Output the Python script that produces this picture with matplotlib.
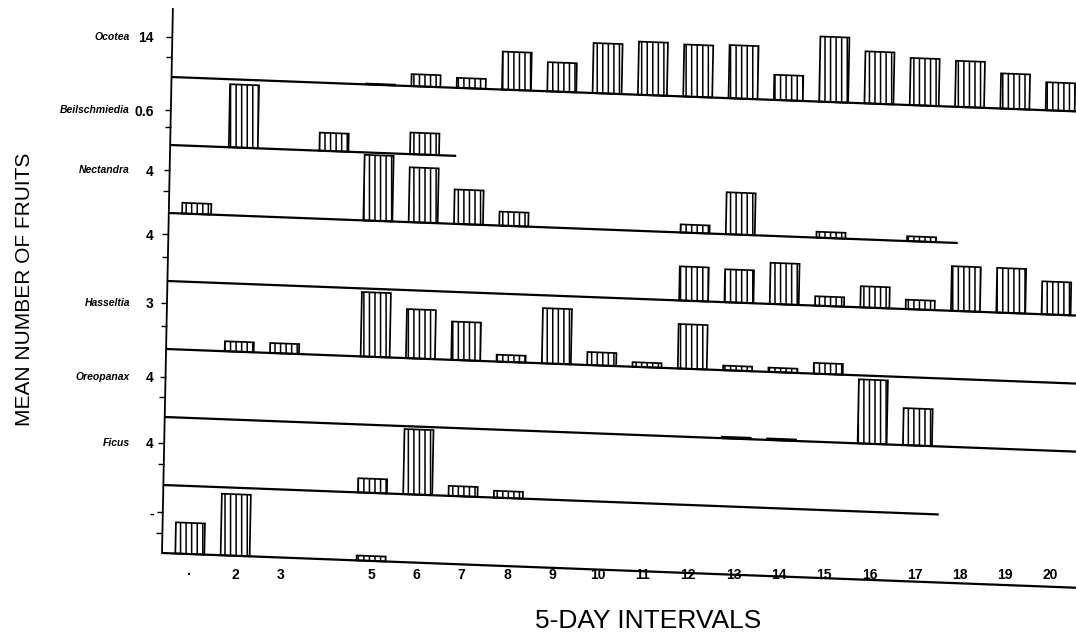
import numpy as np
import matplotlib
matplotlib.use("Agg")
import matplotlib.pyplot as plt
from matplotlib.transforms import Affine2D, blended_transform_factory
from matplotlib import font_manager

# ---------------- data ----------------
intervals = np.arange(1, 21)
x_labels = ['·', '2', '3', '', '5', '6', '7', '8', '9', '10',
            '11', '12', '13', '14', '15', '16', '17', '18', '19', '20']

species = ['Ocotea', 'Beilschmiedia', 'Nectandra', '', 'Hasseltia',
           'Oreopanax', 'Ficus', '']
tick_values = [14, 0.6, 4, 4, 3, 4, 4, 1]
tick_texts = ['14', '0.6', '4', '4', '3', '4', '4', '-']

ocotea = [0, 0, 0, 0, 0.3, 4.2, 3.5, 13.3, 10.2, 17.5,
          18.6, 18.2, 18.6, 8.8, 22.8, 18.2, 16.5, 16.1, 12.3, 9.8]
beilschmiedia = [0, 1.08, 0, 0.31, 0, 0.37, 0, 0, 0, 0,
                 0, 0, 0, 0, 0, 0, 0, 0, 0, 0]
nectandra = [1.0, 0, 0, 0, 6.1, 5.1, 3.2, 1.3, 0, 0,
             0, 0.75, 3.9, 0, 0.55, 0, 0.45, 0, 0, 0]
panel4 = [0, 0, 0, 0, 0, 0, 0, 0, 0, 0,
          0, 2.9, 2.8, 3.5, 0.8, 1.8, 0.8, 3.8, 3.8, 2.8]
hasseltia = [0, 0.65, 0.65, 0, 4.2, 3.2, 2.5, 0.45, 3.6, 0.85,
             0.3, 2.9, 0.3, 0.28, 0.7, 0, 0, 0, 0, 0]
oreopanax = [0, 0, 0, 0, 0, 0, 0, 0, 0, 0,
             0, 0, 0.15, 0.15, 0, 6.4, 3.7, 0, 0, 0]
ficus = [0, 0, 0, 0, 1.35, 6.2, 0.95, 0.65, 0, 0,
         0, 0, 0, 0, 0, 0, 0, 0, 0, 0]
bottom_series = [0.76, 1.5, 0, 0, 0.12, 0, 0, 0, 0, 0,
                 0, 0, 0, 0, 0, 0, 0, 0, 0, 0]

series = [ocotea, beilschmiedia, nectandra, panel4, hasseltia,
          oreopanax, ficus, bottom_series]

# ---------------- layout / style ----------------
W, H, DPI = 1076, 636, 100
PANEL_PX = 68.0
tick_px = [40, 35, 43, 47, 46, 40, 42, 41]     # labelled tick height above baseline (px)
baseline_end = [None, 6.7, 17.8, None, None, None, 17.5, None]

plt.rcParams['hatch.linewidth'] = 1.1

names = {f.name for f in font_manager.fontManager.ttflist}
narrow = 'Liberation Sans Narrow' if 'Liberation Sans Narrow' in names else 'Liberation Sans'
plain = 'Liberation Sans' if 'Liberation Sans' in names else 'DejaVu Sans'

fig = plt.figure(figsize=(W / DPI, H / DPI), dpi=DPI)
fig.patch.set_facecolor('white')
ax = fig.add_axes([162 / W, 83 / H, 914 / W, 544 / H])
ax.set_autoscale_on(False)
x0, x1 = 0.386, 20.56
ax.set_xlim(x0, x1)
ax.set_ylim(0, 8)
for s in ax.spines.values():
    s.set_visible(False)

# skew of the scanned page (baselines slope down to the right, axis leans)
piv = ax.transData.transform((x0, 0))
shear = (Affine2D().translate(-piv[0], -piv[1])
         .skew(np.arctan(0.02), np.arctan(-0.038))
         .translate(piv[0], piv[1]))
tr = ax.transData + shear

n_panels = len(series)
ytick_pos = []
for k, vals in enumerate(series):
    off = n_panels - 1 - k
    scale = (tick_px[k] / PANEL_PX) / tick_values[k]
    v = np.asarray(vals, dtype=float)
    m = v > 0
    bars = ax.bar(intervals[m], v[m] * scale, bottom=off, width=0.64,
                  facecolor='white', edgecolor='black', hatch='|||',
                  linewidth=1.25, clip_on=False)
    for b in bars:
        b.set_transform(tr)
    xe = baseline_end[k] if baseline_end[k] is not None else x1 + 1.0
    ax.plot([x0, xe], [off, off], color='black', lw=1.6,
            solid_capstyle='butt', transform=tr, clip_on=False)
    tpos = off + tick_px[k] / PANEL_PX
    ytick_pos.append(tpos)
    ax.plot([x0, x0], [tpos, off + tick_px[k] / PANEL_PX / 2], ls='none',
            marker=0, ms=4, mew=1.0, color='black', transform=tr, clip_on=False)

# vertical axis line
ax.plot([x0, x0], [0, 8], color='black', lw=1.3, transform=tr, clip_on=False)

# y tick labels (values) and species names
ax.set_yticks(ytick_pos, tick_texts)
ax.tick_params(axis='y', length=0, pad=6)
for lab in ax.get_yticklabels():
    lab.set_fontsize(10)
    lab.set_fontweight('bold')
    lab.set_family(plain)

blend = blended_transform_factory(ax.transAxes, ax.transData)
for k, nm in enumerate(species):
    if nm:
        ax.text(-0.035, ytick_pos[k], nm, transform=blend, ha='right', va='center',
                fontsize=7.5, fontweight='bold', fontstyle='italic', family=plain)

# x tick labels
ax.set_xticks(intervals, x_labels)
ax.tick_params(axis='x', length=0, pad=11)
for lab in ax.get_xticklabels():
    lab.set_fontsize(10)
    lab.set_fontweight('bold')
    lab.set_family(narrow)

fig.text(25 / W, 1 - 289 / H, 'MEAN NUMBER OF FRUITS', rotation=90,
         ha='center', va='center', fontsize=15, family=plain)
fig.text(648 / W, 1 - 621 / H, '5-DAY INTERVALS', ha='center', va='center',
         fontsize=19, family=plain)

fig.savefig('out.png', dpi=DPI, facecolor='white')
